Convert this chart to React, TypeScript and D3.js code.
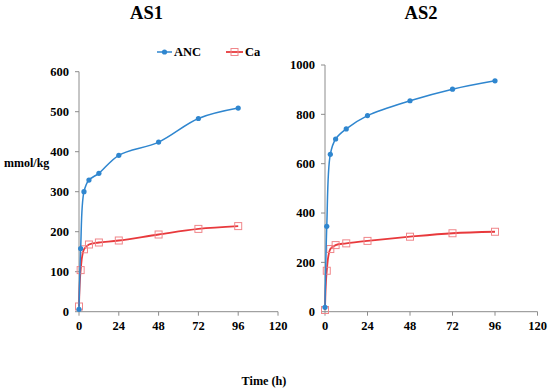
import * as d3 from "d3";

const hours = [0, 1, 3, 6, 12, 24, 48, 72, 96];
const xTicks = [0, 24, 48, 72, 96, 120];

const as1Anc = [6, 158, 300, 329, 346, 391, 424, 483, 509];
const as1Ca = [13, 104, 156, 168, 173, 178, 193, 207, 214];
const as1Ticks = [0, 100, 200, 300, 400, 500, 600];

const as2Anc = [18, 346, 638, 700, 741, 795, 855, 902, 936];
const as2Ca = [7, 166, 254, 270, 277, 287, 304, 318, 324];
const as2Ticks = [0, 200, 400, 600, 800, 1000];

const FONT = "Liberation Serif, DejaVu Serif, serif";
const BLUE = "#2f86cf";
const RED = "#e8393c";
const PINK = "#f0868a";
const AXIS = "#8c8c8c";

type PanelProps = {
  title: string;
  anc: number[];
  ca: number[];
  yTicks: number[];
  x0: number;
  x1: number;
  yTop: number;
  titleX: number;
};

function Panel({ title, anc, ca, yTicks, x0, x1, yTop, titleX }: PanelProps) {
  const x = d3.scaleLinear().domain([0, 120]).range([x0, x1]);
  const y = d3
    .scaleLinear()
    .domain([0, yTicks[yTicks.length - 1]])
    .range([311.7, yTop]);

  const line = d3
    .line<number>()
    .x((_, i) => x(hours[i]))
    .y((d) => y(d))
    .curve(d3.curveCatmullRom.alpha(0.5));

  return (
    <g>
      <text
        x={titleX}
        y={19}
        textAnchor="middle"
        fontSize={18.5}
        fontWeight="bold"
        fontFamily={FONT}
      >
        {title}
      </text>
      {/* axes */}
      <line x1={x0} x2={x0} y1={yTop} y2={y(0)} stroke={AXIS} strokeWidth={1} />
      <line x1={x0} x2={x1} y1={y(0)} y2={y(0)} stroke={AXIS} strokeWidth={1} />
      {yTicks.map((t) => (
        <g key={"y" + t}>
          <line x1={x0 - 4} x2={x0} y1={y(t)} y2={y(t)} stroke={AXIS} />
          <text
            x={x0 - 10}
            y={y(t)}
            dy="0.35em"
            textAnchor="end"
            fontSize={12.5}
            fontWeight="bold"
            fontFamily={FONT}
          >
            {t}
          </text>
        </g>
      ))}
      {xTicks.map((t) => (
        <g key={"x" + t}>
          <line x1={x(t)} x2={x(t)} y1={y(0)} y2={y(0) + 4} stroke={AXIS} />
          <text
            x={x(t)}
            y={y(0) + 18}
            textAnchor="middle"
            fontSize={12.5}
            fontWeight="bold"
            fontFamily={FONT}
          >
            {t}
          </text>
        </g>
      ))}
      {/* Ca series */}
      <path d={line(ca) ?? ""} fill="none" stroke={RED} strokeWidth={1.8} />
      {ca.map((v, i) => (
        <rect
          key={"c" + i}
          x={x(hours[i]) - 3.5}
          y={y(v) - 3.5}
          width={7}
          height={7}
          fill="none"
          stroke={PINK}
          strokeWidth={1}
        />
      ))}
      {/* ANC series */}
      <path d={line(anc) ?? ""} fill="none" stroke={BLUE} strokeWidth={1.5} />
      {anc.map((v, i) => (
        <circle key={"a" + i} cx={x(hours[i])} cy={y(v)} r={2.6} fill={BLUE} />
      ))}
    </g>
  );
}

export default function App() {
  return (
    <svg
      width={550}
      height={392}
      style={{ position: "absolute", left: 0, top: 0, background: "#fff" }}
    >
      <rect width={550} height={392} fill="#fff" />
      <Panel
        title="AS1"
        anc={as1Anc}
        ca={as1Ca}
        yTicks={as1Ticks}
        x0={79}
        x1={278}
        yTop={71.7}
        titleX={146.5}
      />
      <Panel
        title="AS2"
        anc={as2Anc}
        ca={as2Ca}
        yTicks={as2Ticks}
        x0={325}
        x1={537.5}
        yTop={65}
        titleX={421}
      />
      {/* legend */}
      <line x1={157} x2={172} y1={52} y2={52} stroke={BLUE} strokeWidth={1.5} />
      <circle cx={164.5} cy={52} r={2.6} fill={BLUE} />
      <text x={174} y={52} dy="0.35em" fontSize={12.5} fontWeight="bold" fontFamily={FONT}>
        ANC
      </text>
      <line x1={226} x2={243} y1={52} y2={52} stroke={RED} strokeWidth={1.8} />
      <rect x={231} y={48.5} width={7} height={7} fill="none" stroke={PINK} />
      <text x={245} y={52} dy="0.35em" fontSize={12.5} fontWeight="bold" fontFamily={FONT}>
        Ca
      </text>
      <text x={4} y={163} dy="0.35em" fontSize={12} fontWeight="bold" fontFamily={FONT}>
        mmol/kg
      </text>
      <text
        x={264}
        y={385}
        textAnchor="middle"
        fontSize={12.2}
        fontWeight="bold"
        fontFamily={FONT}
      >
        Time (h)
      </text>
    </svg>
  );
}
